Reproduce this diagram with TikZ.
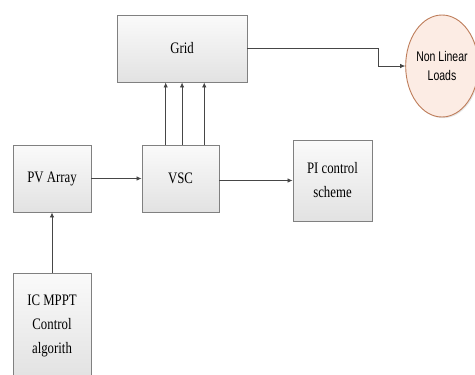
\documentclass[tikz,border=0pt]{standalone}
\usepackage{fontspec}
\newfontfamily\boxfont[FakeStretch=0.8]{Liberation Serif}
\newfontfamily\loadfont[FakeStretch=0.75]{Liberation Sans}
\usetikzlibrary{calc,positioning,arrows.meta,shapes.geometric,shadows}
\definecolor{CBRD}{RGB}{128,128,128}
\definecolor{CTOP}{RGB}{250,250,250}
\definecolor{CBOT}{RGB}{226,226,226}
\definecolor{CLN}{RGB}{70,70,70}
\definecolor{CLDF}{RGB}{252,236,228}
\definecolor{CLDB}{RGB}{190,125,90}

\tikzset{
  blk/.style={draw=CBRD,line width=0.9pt,top color=CTOP,bottom color=CBOT,
    align=center,inner sep=0pt,
    font=\boxfont\fontsize{16}{24}\selectfont,
    drop shadow={shadow xshift=1.2pt,shadow yshift=-1.2pt,opacity=0.25}},
  arr/.style={CLN,line width=0.8pt,-{Latex[length=5pt,width=4.5pt]}}
}

\begin{document}
\begin{tikzpicture}[x=1pt,y=-1pt]
  \useasboundingbox (0,0) rectangle (475,375);
  % blocks
  \node[blk,minimum width=130pt,minimum height=67pt] (grid) at (182,48.5) {Grid};
  \node[blk,minimum width=78pt,minimum height=67pt] (pv) at (52,178.5) {PV Array};
  \node[blk,minimum width=77pt,minimum height=67pt] (vsc) at (180.5,178.5) {VSC};
  \node[blk,minimum width=79pt,minimum height=81pt] (pi) at (332.5,180.5) {PI control\\scheme};
  \node[blk,minimum width=78pt,minimum height=105pt] (mppt) at (52,325.5) {IC MPPT\\Control\\algorith};
  \node[ellipse,draw=CLDB,line width=0.9pt,fill=CLDF,minimum width=70pt,minimum height=102pt,
    align=center,inner sep=0pt,font=\loadfont\fontsize{14}{19}\selectfont,
    drop shadow={shadow xshift=1.2pt,shadow yshift=-1.2pt,opacity=0.2}] (loads) at (442,66) {Non Linear\\Loads};
  % connectors
  \draw[arr] (pv.east) -- (vsc.west);
  \draw[arr] (pi.west -| vsc.east) -- (pi.west);
  \draw[arr] (mppt.north) -- (pv.south);
  \foreach \f [count=\i] in {0.31,0.52,0.805} {
    \coordinate (v\i) at ($(vsc.north west)!\f!(vsc.north east)$);
    \draw[arr] (v\i) -- (v\i |- grid.south);
  }
  \draw[arr] (grid.east) -| ($(loads.west)+(-27,0)$) -- (loads.west);
\end{tikzpicture}
\end{document}
